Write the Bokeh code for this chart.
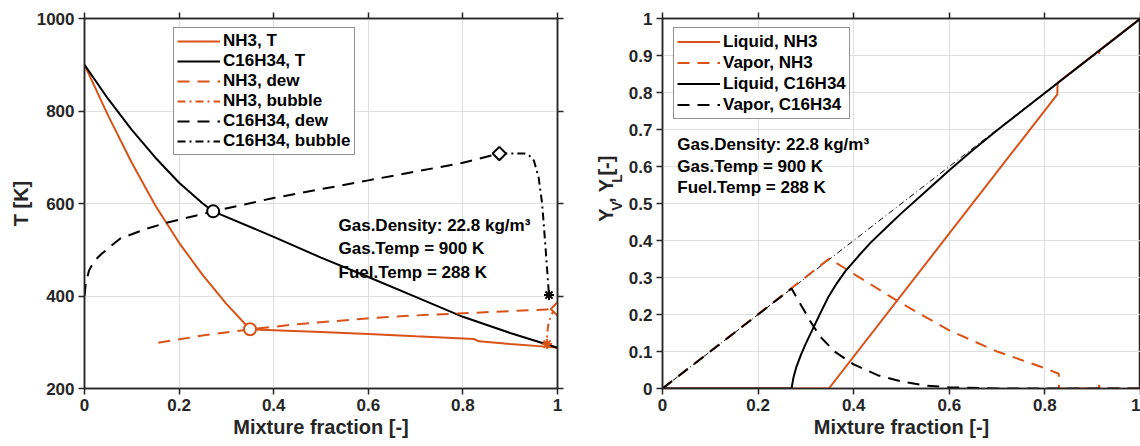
from math import pi
from bokeh.plotting import figure
from bokeh.models import Range1d, LinearAxis, FixedTicker, Label, CustomLabelingPolicy
from bokeh.layouts import row
from bokeh.embed import file_html
from bokeh.resources import INLINE

ORANGE = "#D95319"
BLACK = "#000000"
AX = "#262626"
GRID = "#DFDFDF"
FONT = "Liberation Sans"

# ---------------- Left panel: temperature vs mixture fraction ----------------
nh3_T_z = [0, 0.05, 0.1, 0.15, 0.2, 0.25, 0.3, 0.35, 0.4, 0.5, 0.6, 0.7, 0.823, 0.834, 0.9, 0.98, 1.0]
nh3_T = [900, 790, 688, 595, 515, 445, 383, 328, 326, 322, 318, 313, 307, 302, 296, 290, 288]
c16_T_z = [0, 0.05, 0.1, 0.15, 0.2, 0.25, 0.272, 0.4, 0.5, 0.6, 0.7, 0.8, 0.9, 1.0]
c16_T = [900, 826, 759, 699, 645, 600, 583, 528, 483, 441, 398, 355, 320, 288]
nh3_dew_z = [0.156, 0.253, 0.35, 0.45, 0.59, 0.7, 0.83, 0.977, 1.0]
nh3_dew = [299, 315, 328, 339, 351, 358, 364, 371, 372]
nh3_bub_z = [1.0, 0.99, 0.985, 0.98, 0.978, 0.978]
nh3_bub = [372, 365, 354, 335, 315, 296]
c16_dew_z = [0, 0.003, 0.01, 0.02, 0.037, 0.075, 0.13, 0.172, 0.272, 0.4, 0.6, 0.8, 0.877]
c16_dew = [400, 430, 456, 475, 492, 524, 545, 558, 583, 612, 650, 688, 708]
c16_bub_z = [0.877, 0.93, 0.94, 0.95, 0.96, 0.9676, 0.9746, 0.982]
c16_bub = [708, 708, 704, 693, 657, 599, 506, 402]

circ_z = [0.272, 0.35]
circ_T = [583, 328]
diam_z = [0.877, 1.0]
diam_T = [708, 372]
star_z = [0.982, 0.978]
star_T = [402, 296]
mark_colors = [BLACK, ORANGE]

left_x_ticks = [0, 0.2, 0.4, 0.6, 0.8, 1.0]
left_x_labels = ["0", "0.2", "0.4", "0.6", "0.8", "1"]
left_y_ticks = [200, 400, 600, 800, 1000]
left_y_labels = ["200", "400", "600", "800", "1000"]

# ---------------- Right panel: mass fractions vs mixture fraction ----------------
liqNH3_z = [0, 0.348, 0.826, 0.8265, 0.913, 0.9135, 0.9145, 1.0]
liqNH3_y = [0, 0, 0.795, 0.826, 0.913, 0.905, 0.9145, 1.0]
vapNH3_z = [0, 0.349, 0.4, 0.5, 0.6, 0.7, 0.8, 0.829, 0.8295, 0.913, 0.9135, 0.9145, 1.0]
vapNH3_y = [0, 0.351, 0.31, 0.23, 0.157, 0.1, 0.055, 0.04, 0, 0, 0.01, 0, 0]
liqC16_z = [0, 0.27, 0.274, 0.28, 0.29, 0.3, 0.317, 0.33, 0.346, 0.365, 0.383, 0.41, 0.436,
            0.47, 0.5, 0.55, 0.6, 0.65, 0.7, 1.0]
liqC16_y = [0, 0, 0.03, 0.058, 0.092, 0.122, 0.168, 0.203, 0.245, 0.285, 0.318, 0.358, 0.395,
            0.437, 0.474, 0.532, 0.59, 0.645, 0.698, 1.0]
vapC16_z = [0, 0.27, 0.29, 0.31, 0.33, 0.36, 0.4, 0.45, 0.5, 0.55, 0.6, 0.7, 1.0]
vapC16_y = [0, 0.27, 0.225, 0.18, 0.14, 0.1, 0.065, 0.036, 0.019, 0.008, 0.003, 0, 0]
diag_z = [0, 1.0]
diag_y = [0, 1.0]

right_x_ticks = [0, 0.2, 0.4, 0.6, 0.8, 1.0]
right_x_labels = ["0", "0.2", "0.4", "0.6", "0.8", "1"]
right_y_ticks = [0, 0.1, 0.2, 0.3, 0.4, 0.5, 0.6, 0.7, 0.8, 0.9, 1.0]
right_y_labels = ["0", "0.1", "0.2", "0.3", "0.4", "0.5", "0.6", "0.7", "0.8", "0.9", "1"]

note_lines = ["Gas.Density: 22.8 kg/m\u00b3", "Gas.Temp = 900 K", "Fuel.Temp = 288 K"]

# right y-axis label pieces: Y_V, Y_L [-]  (text, is_subscript)
ylabel_parts = [("Y", False), ("V", True), (", Y", False), ("L", True), (" [-]", False)]


def style_axis(ax, ticks, labels, show_labels=True, axis_label=None):
    ax.ticker = FixedTicker(ticks=ticks)
    ax.major_label_overrides = dict(zip(ticks, labels))
    ax.axis_line_color = AX
    ax.axis_line_width = 1.5
    ax.major_tick_line_color = AX
    ax.major_tick_line_width = 1.5
    ax.major_tick_out = 6
    ax.major_tick_in = 0
    ax.minor_tick_line_color = None
    ax.major_label_text_font = FONT
    ax.major_label_text_font_style = "bold"
    ax.major_label_text_color = AX
    if show_labels:
        ax.major_label_text_font_size = "17px"
        ax.major_label_standoff = 4
    else:
        ax.major_label_text_font_size = "1px"
        ax.major_label_standoff = 0
        ax.major_label_policy = CustomLabelingPolicy(code="return []")
    ax.axis_label = axis_label
    ax.axis_label_text_font = FONT
    ax.axis_label_text_font_style = "bold"
    ax.axis_label_text_font_size = "20px"
    ax.axis_label_text_color = AX
    ax.axis_label_standoff = 2


def base_fig(width, xr, yr, bl, br, xt, xl, yt, yl, ylabel, right_axis):
    p = figure(width=width, height=446, x_range=Range1d(*xr), y_range=Range1d(*yr),
               output_backend="svg", toolbar_location=None,
               min_border_left=bl, min_border_right=br, min_border_top=18, min_border_bottom=58)
    p.background_fill_color = "white"
    p.border_fill_color = "white"
    p.outline_line_color = AX
    p.outline_line_width = 1.5
    style_axis(p.below[0], xt, xl, True, "Mixture fraction [-]")
    style_axis(p.left[0], yt, yl, True, ylabel)
    p.xgrid.ticker = FixedTicker(ticks=xt)
    p.ygrid.ticker = FixedTicker(ticks=yt)
    for g in (p.xgrid[0], p.ygrid[0]):
        g.grid_line_color = GRID
        g.grid_line_width = 1
    top = LinearAxis()
    style_axis(top, xt, xl, False)
    p.add_layout(top, "above")
    if right_axis:
        rgt = LinearAxis()
        style_axis(rgt, yt, yl, False)
        p.add_layout(rgt, "right")
    return p


def style_legend(leg, loc, row_h):
    leg.location = loc
    leg.label_text_font = FONT
    leg.label_text_font_style = "bold"
    leg.label_text_font_size = "17px"
    leg.label_text_color = "#000000"
    leg.glyph_width = 43
    leg.glyph_height = row_h
    leg.label_height = row_h
    leg.spacing = 0
    leg.padding = 3
    leg.margin = 0
    leg.label_standoff = 3
    leg.border_line_color = AX
    leg.border_line_width = 1.5
    leg.background_fill_color = "white"
    leg.background_fill_alpha = 1


# ---------- left figure ----------
p1 = base_fig(580, (0, 1), (200, 1000), 84, 23, left_x_ticks, left_x_labels,
              left_y_ticks, left_y_labels, "T [K]", True)

p1.line(nh3_T_z, nh3_T, color=ORANGE, line_width=2, legend_label="NH3, T")
p1.line(c16_T_z, c16_T, color=BLACK, line_width=2, legend_label="C16H34, T")
p1.line(nh3_dew_z, nh3_dew, color=ORANGE, line_width=2, line_dash="12 8", legend_label="NH3, dew")
p1.line(nh3_bub_z, nh3_bub, color=ORANGE, line_width=2, line_dash="8 4 2 4", legend_label="NH3, bubble")
p1.line(c16_dew_z, c16_dew, color=BLACK, line_width=2, line_dash="12 8", legend_label="C16H34, dew")
p1.line(c16_bub_z, c16_bub, color=BLACK, line_width=2, line_dash="8 4 2 4", legend_label="C16H34, bubble")

p1.scatter(circ_z, circ_T, marker="circle", size=12, line_color=mark_colors,
           fill_color="white", line_width=2)
p1.scatter(diam_z, diam_T, marker="square", angle=pi / 4, size=9.5, line_color=mark_colors,
           fill_color="white", line_width=2)
p1.scatter(star_z, star_T, marker="asterisk", size=10, line_color=mark_colors, line_width=2)

style_legend(p1.legend[0], (89, 233), 20)

for i, t in enumerate(note_lines):
    p1.add_layout(Label(x=0.537, y=552.5 - 50.8 * i, text=t, text_font=FONT,
                        text_font_style="bold", text_font_size="17px", text_color="#000000",
                        text_align="left", text_baseline="middle"))

# ---------- narrow strip holding the right panel's rotated y-axis label ----------
STRIP_W = 45
pm = figure(width=STRIP_W, height=446, x_range=Range1d(0, STRIP_W), y_range=Range1d(0, 446),
            x_axis_type=None, y_axis_type=None, output_backend="svg", toolbar_location=None,
            min_border=0)
pm.outline_line_color = None
pm.background_fill_color = "white"
pm.border_fill_color = "white"
WIDTHS = {"Y": 0.667, "V": 0.667, "L": 0.611, ",": 0.278, " ": 0.278, "[": 0.333, "-": 0.333, "]": 0.333}
ypos = 201.0
for txt, sub in ylabel_parts:
    fs = 14 if sub else 20
    pm.add_layout(Label(x=36 if sub else 25, y=ypos, text=txt, angle=pi / 2, text_font=FONT,
                        text_font_style="bold", text_font_size=f"{fs}px", text_color=AX,
                        text_align="left", text_baseline="alphabetic"))
    ypos += sum(WIDTHS[c] for c in txt) * fs

# ---------- right figure ----------
p2 = base_fig(1140 - 580 - STRIP_W, (0, 1), (0, 1), 37, 0, right_x_ticks, right_x_labels,
              right_y_ticks, right_y_labels, None, False)

p2.line(diag_z, diag_y, color=BLACK, line_width=1, line_dash="6 3 1 3")
p2.line(liqNH3_z, liqNH3_y, color=ORANGE, line_width=2, legend_label="Liquid, NH3")
p2.line(vapNH3_z, vapNH3_y, color=ORANGE, line_width=2, line_dash="12 8", legend_label="Vapor, NH3")
p2.line(liqC16_z, liqC16_y, color=BLACK, line_width=2, legend_label="Liquid, C16H34")
p2.line(vapC16_z, vapC16_y, color=BLACK, line_width=2, line_dash="12 8", legend_label="Vapor, C16H34")

style_legend(p2.legend[0], (11, 269), 21)

for i, t in enumerate(note_lines):
    p2.add_layout(Label(x=0.031, y=0.659 - 0.058 * i, text=t, text_font=FONT,
                        text_font_style="bold", text_font_size="17px", text_color="#000000",
                        text_align="left", text_baseline="middle"))

layout = row(p1, pm, p2)
open("out.html", "w").write(file_html(layout, INLINE))
